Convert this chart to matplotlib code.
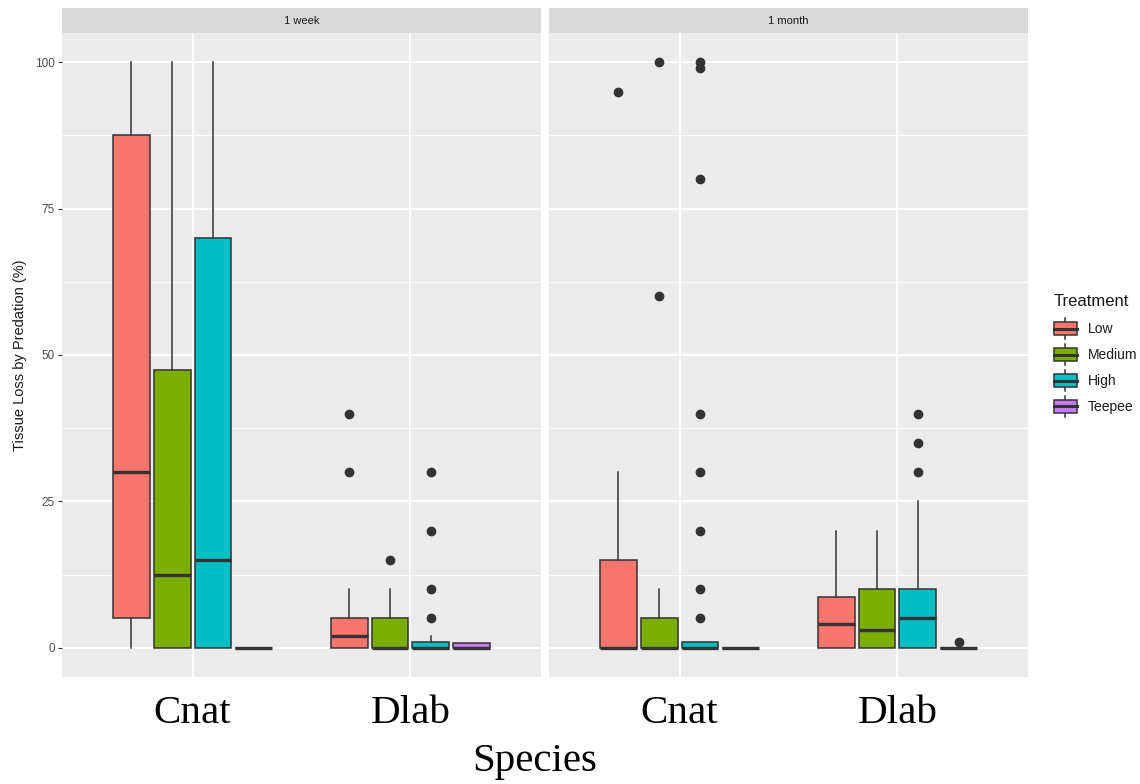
import matplotlib
matplotlib.use('Agg')
import matplotlib.pyplot as plt
from matplotlib.ticker import MultipleLocator
from matplotlib.patches import Rectangle, Patch
from matplotlib.lines import Line2D
from matplotlib.legend_handler import HandlerBase

plt.rcParams['font.family'] = ['Liberation Sans', 'DejaVu Sans']

species = ['Cnat', 'Dlab']
treatments = ['Low', 'Medium', 'High', 'Teepee']
colors = ['#F8766D', '#7CAE00', '#00BFC4', '#C77CFF']
facets = ['1 week', '1 month']

# order in each facet: Cnat Low/Medium/High/Teepee, then Dlab Low/Medium/High/Teepee
week_whislo = [0, 0, 0, 0, 0, 0, 0, 0]
week_q1 = [5, 0, 0, 0, 0, 0, 0, 0]
week_med = [30, 12.5, 15, 0, 2, 0, 0, 0]
week_q3 = [87.5, 47.5, 70, 0, 5, 5, 1, 0.8]
week_whishi = [100, 100, 100, 0, 10, 10, 2, 0.8]
week_fliers = [[], [], [], [], [30, 40], [15], [5, 10, 20, 30], []]

month_whislo = [0, 0, 0, 0, 0, 0, 0, 0]
month_q1 = [0, 0, 0, 0, 0, 0, 0, 0]
month_med = [0, 0, 0, 0, 4, 3, 5, 0]
month_q3 = [15, 5, 1, 0, 8.7, 10, 10, 0]
month_whishi = [30, 10, 1, 0, 20, 20, 25, 0]
month_fliers = [[95], [60, 100], [5, 10, 20, 30, 40, 80, 99, 100], [],
                [], [], [30, 35, 40], [1]]

y_ticks = [0, 25, 50, 75, 100]

facet_data = [
    (week_whislo, week_q1, week_med, week_q3, week_whishi, week_fliers),
    (month_whislo, month_q1, month_med, month_q3, month_whishi, month_fliers),
]

fig = plt.figure(figsize=(11.4, 7.84), dpi=100)
W, H = 1140, 784

def fx(px):
    return px / W

def fy(py):
    return 1 - py / H

panel_lefts = [62, 549]
panel_w = 479
top, bottom = 33, 677
edge = '#333333'
offsets = [-0.28125, -0.09375, 0.09375, 0.28125]

for k, (title, data) in enumerate(zip(facets, facet_data)):
    whislo, q1, med, q3, whishi, fliers = data
    ax = fig.add_axes([fx(panel_lefts[k]), fy(bottom), fx(panel_w), (bottom - top) / H])
    ax.set_facecolor('#EBEBEB')
    for s in ax.spines.values():
        s.set_visible(False)

    stats, pos, cols = [], [], []
    for i, sp in enumerate(species):
        for j, tr in enumerate(treatments):
            n = i * 4 + j
            stats.append(dict(med=med[n], q1=q1[n], q3=q3[n], whislo=whislo[n],
                              whishi=whishi[n], fliers=fliers[n]))
            pos.append(i + 1 + offsets[j])
            cols.append(colors[j])

    bp = ax.bxp(stats, positions=pos, widths=0.169, patch_artist=True, showcaps=False,
                boxprops=dict(edgecolor=edge, linewidth=1.1),
                medianprops=dict(color=edge, linewidth=2.4),
                whiskerprops=dict(color=edge, linewidth=1.1),
                flierprops=dict(marker='o', markerfacecolor=edge, markeredgecolor=edge,
                                markersize=6, linestyle='none'),
                manage_ticks=False, zorder=3)
    for box, c in zip(bp['boxes'], cols):
        box.set_facecolor(c)

    ax.set_xlim(0.4, 2.6)
    ax.set_ylim(-5, 105)
    ax.set_xticks([1, 2])
    ax.set_xticklabels(species, fontsize=29.5, family='Liberation Serif', color='black')
    ax.tick_params(axis='x', length=0, pad=13)
    ax.yaxis.set_major_locator(MultipleLocator(25))
    ax.yaxis.set_minor_locator(MultipleLocator(12.5))
    ax.grid(which='major', color='white', linewidth=1.3)
    ax.grid(which='minor', axis='y', color='white', linewidth=0.6)
    ax.set_axisbelow(True)
    ax.tick_params(axis='y', which='minor', length=0)
    if k == 0:
        ax.set_yticks(y_ticks)
        ax.tick_params(axis='y', length=3, color=edge, labelsize=8.5, labelcolor='#4D4D4D', pad=2)
        ax.set_ylabel('Tissue Loss by Predation (%)', fontsize=10.5, color='#1A1A1A', labelpad=6)
    else:
        ax.tick_params(axis='y', length=0, labelleft=False)

    strip = fig.add_axes([fx(panel_lefts[k]), fy(top), fx(panel_w), 25 / H])
    strip.set_facecolor('#D9D9D9')
    strip.set_xticks([])
    strip.set_yticks([])
    for s in strip.spines.values():
        s.set_visible(False)
    strip.text(0.5, 0.5, title, ha='center', va='center', fontsize=8, color='#1A1A1A',
               transform=strip.transAxes)

fig.text(fx(535), fy(761), 'Species', ha='center', va='center', fontsize=29.5,
         family='Liberation Serif', color='black')


class BoxKey(HandlerBase):
    def create_artists(self, legend, orig_handle, xdescent, ydescent, width, height, fontsize, trans):
        x0, y0 = -xdescent, -ydescent
        xm = x0 + width / 2
        lo = Line2D([xm, xm], [y0, y0 + height * 0.2], color=edge, lw=1.1, transform=trans)
        hi = Line2D([xm, xm], [y0 + height * 0.8, y0 + height], color=edge, lw=1.1, transform=trans)
        box = Rectangle((x0, y0 + height * 0.2), width, height * 0.6, facecolor=orig_handle.get_facecolor(),
                        edgecolor=edge, lw=1.1, transform=trans)
        md = Line2D([x0, x0 + width], [y0 + height / 2] * 2, color=edge, lw=2.2, transform=trans)
        return [lo, hi, box, md]


fig.text(fx(1054), fy(301), 'Treatment', ha='left', va='center', fontsize=12, color='#1A1A1A')
handles = [Patch(facecolor=c, label=t) for c, t in zip(colors, treatments)]
leg = fig.legend(handles=handles, loc='upper left', bbox_to_anchor=(fx(1054), fy(318)),
                 frameon=False, fontsize=10,
                 handler_map={Patch: BoxKey()}, handlelength=1.65, handleheight=2.0,
                 handletextpad=0.8, labelspacing=0.32, borderpad=0, borderaxespad=0)
for t in leg.get_texts():
    t.set_color('#1A1A1A')

fig.savefig('out.png', dpi=100)
